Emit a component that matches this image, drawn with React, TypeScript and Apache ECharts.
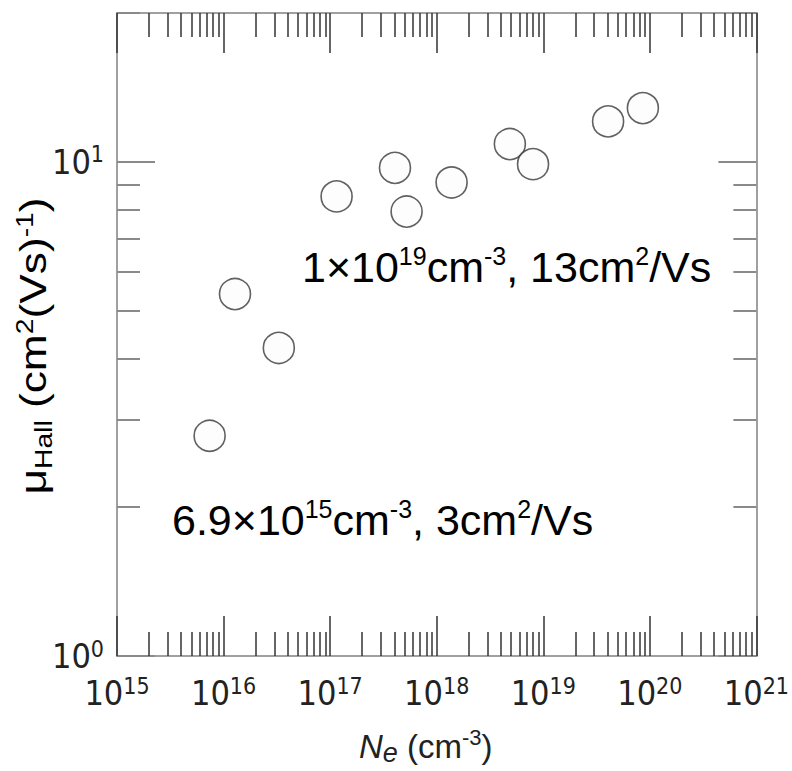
import React, { useEffect, useRef } from 'react';
import * as echarts from 'echarts';

const FONT = '"Liberation Sans", Arial, Helvetica, sans-serif';
const NARROW_FONT = '"Liberation Sans Narrow", "DejaVu Sans Condensed", "Liberation Sans", Arial, sans-serif';

// Data: carrier concentration (cm^-3) and Hall mobility (cm^2/Vs)
const carrierConc = [7.4e15, 1.28e16, 3.3e16, 1.15e17, 4.06e17, 5.22e17, 1.38e18, 4.86e18, 8.02e18, 4.06e19, 8.61e19];
const hallMobility = [2.79, 5.4, 4.2, 8.51, 9.72, 7.93, 9.08, 10.86, 9.89, 12.07, 12.84];

// Axis ticks
const xDecades = [1e15, 1e16, 1e17, 1e18, 1e19, 1e20, 1e21];
const minorMultipliers = [2, 3, 4, 5, 6, 7, 8, 9];
const xMinorTicks = xDecades.slice(0, -1).flatMap((d) => minorMultipliers.map((m) => m * d));
const yDecades = [1, 10];
const yMinorTicks = [2, 3, 4, 5, 6, 7, 8, 9, 20];

// Texts
const annotationUpper = '{n|1×10}{s|19}{n|cm}{s|-3}{n|, 13cm}{s|2}{n|/Vs}';
const annotationLower = '{n|6.9×10}{s|15}{n|cm}{s|-3}{n|, 3cm}{s|2}{n|/Vs}';
const xAxisTitle = '{i|N}{e|e}{n| (cm}{s|-3}{n|)}';
const yAxisTitle = '{n|μ}{b|Hall}{n| (cm}{s|2}{n|(Vs)}{s|-1}{n|)}';

const AXIS_COLOR = '#a0a0a0';
const X_TICK_COLOR = '#333';
const Y_TICK_COLOR = '#8a8a8a';
const TEXT_COLOR = '#222';

const tickLabelRich = {
  b: { fontSize: 34, lineHeight: 38, fontFamily: NARROW_FONT, color: TEXT_COLOR },
  s: { fontSize: 23, lineHeight: 18, verticalAlign: 'top', fontFamily: NARROW_FONT, color: TEXT_COLOR },
};
const powerLabel = (v: number) => `{b|10}{s|${Math.round(Math.log10(v))}}`;

function xAxisDef(position: 'top' | 'bottom', major: boolean, extra: any = {}) {
  return {
    type: 'log',
    logBase: 10,
    min: 1e15,
    max: 1.00001e21,
    position,
    axisLine: { show: major, onZero: false, lineStyle: { color: AXIS_COLOR, width: 2 } },
    axisTick: {
      show: true,
      inside: true,
      length: major ? 40 : 24,
      customValues: major ? xDecades : xMinorTicks,
      lineStyle: { color: X_TICK_COLOR, width: 1.5 },
    },
    axisLabel: { show: false },
    splitLine: { show: false },
    minorTick: { show: false },
    minorSplitLine: { show: false },
    ...extra,
  };
}

function yAxisDef(position: 'left' | 'right', major: boolean, extra: any = {}) {
  return {
    type: 'log',
    logBase: 10,
    min: 1,
    max: 20,
    position,
    axisLine: { show: major, onZero: false, lineStyle: { color: AXIS_COLOR, width: 2 } },
    axisTick: {
      show: true,
      inside: true,
      length: major ? 38 : 23,
      customValues: major ? yDecades : yMinorTicks,
      lineStyle: { color: Y_TICK_COLOR, width: 2 },
    },
    axisLabel: { show: false },
    splitLine: { show: false },
    minorTick: { show: false },
    minorSplitLine: { show: false },
    ...extra,
  };
}

export default function App() {
  const ref = useRef<HTMLDivElement>(null);

  useEffect(() => {
    if (!ref.current) return;
    const chart = echarts.init(ref.current, null, { renderer: 'svg' });

    const annRich = {
      n: { fontSize: 43, lineHeight: 48, fontFamily: FONT, color: '#000' },
      s: { fontSize: 25, lineHeight: 33, verticalAlign: 'top', fontFamily: FONT, color: '#000' },
    };

    const yTitleRich = {
      n: { fontSize: 36, lineHeight: 42, fontFamily: FONT, color: TEXT_COLOR },
      b: { fontSize: 23, lineHeight: 29, verticalAlign: 'bottom', fontFamily: FONT, color: TEXT_COLOR },
      s: { fontSize: 23, lineHeight: 29, verticalAlign: 'top', fontFamily: FONT, color: TEXT_COLOR },
    };

    const option: any = {
      animation: false,
      backgroundColor: '#fff',
      grid: { left: 117, right: 31, top: 13, bottom: 114, containLabel: false },
      xAxis: [
        xAxisDef('bottom', true, {
          axisLabel: {
            show: true,
            customValues: xDecades,
            formatter: powerLabel,
            margin: 18,
            rich: tickLabelRich,
            hideOverlap: false,
          },
          name: xAxisTitle,
          nameLocation: 'middle',
          nameGap: 70,
          nameTextStyle: {
            padding: [0, 22, 0, 0],
            rich: {
              i: { fontSize: 33, lineHeight: 40, fontStyle: 'italic', fontFamily: FONT, color: TEXT_COLOR },
              e: { fontSize: 27, lineHeight: 34, fontStyle: 'italic', verticalAlign: 'bottom', fontFamily: FONT, color: TEXT_COLOR },
              n: { fontSize: 33, lineHeight: 40, fontFamily: FONT, color: TEXT_COLOR },
              s: { fontSize: 22, lineHeight: 26, verticalAlign: 'top', fontFamily: FONT, color: TEXT_COLOR },
            },
          },
        }),
        xAxisDef('bottom', false),
        xAxisDef('top', true),
        xAxisDef('top', false),
      ],
      yAxis: [
        yAxisDef('left', true, {
          axisLabel: {
            show: true,
            customValues: yDecades,
            formatter: powerLabel,
            margin: 13,
            rich: tickLabelRich,
            hideOverlap: false,
          },
        }),
        yAxisDef('left', false),
        yAxisDef('right', true),
        yAxisDef('right', false),
      ],
      series: [
        {
          type: 'scatter',
          xAxisIndex: 0,
          yAxisIndex: 0,
          data: carrierConc.map((x, i) => [x, hallMobility[i]]),
          symbol: 'circle',
          symbolSize: 31,
          itemStyle: { color: '#fcfcfc', borderColor: '#3a3a3a', borderWidth: 1.6 },
          emphasis: { disabled: true },
        },
      ],
      graphic: [
        {
          type: 'text',
          x: 302,
          y: 243,
          style: { text: annotationUpper, rich: annRich, align: 'left', verticalAlign: 'top' },
        },
        {
          type: 'text',
          x: 172,
          y: 496,
          style: { text: annotationLower, rich: annRich, align: 'left', verticalAlign: 'top' },
        },
        {
          type: 'text',
          x: 34,
          y: 346,
          rotation: Math.PI / 2,
          scaleX: 1.23,
          style: { text: yAxisTitle, rich: yTitleRich, align: 'center', verticalAlign: 'middle' },
        },
      ],
    };

    chart.setOption(option);
    return () => chart.dispose();
  }, []);

  return (
    <div
      ref={ref}
      style={{ position: 'absolute', left: 0, top: 0, width: 792, height: 771, background: '#fff' }}
    />
  );
}
